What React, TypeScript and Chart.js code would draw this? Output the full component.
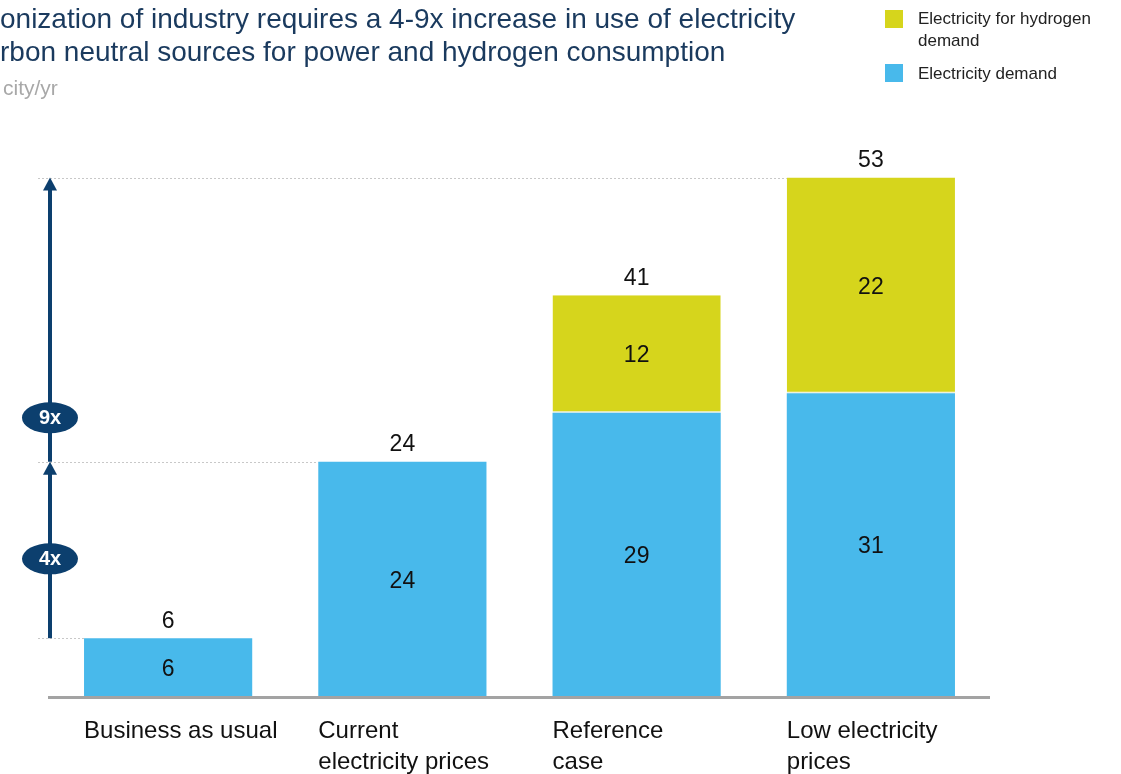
import React, { useEffect, useRef } from "react";
import { Chart, registerables } from "chart.js";

Chart.register(...registerables);

const categories: string[][] = [
  ["Business as usual"],
  ["Current", "electricity prices"],
  ["Reference", "case"],
  ["Low electricity", "prices"],
];
const electricityDemand = [6, 24, 29, 31];
const hydrogenDemand = [0, 0, 12, 22];
const totals = [6, 24, 41, 53];
const multipliers = ["4x", "9x"];
const titleLines = [
  "onization of industry requires a 4-9x increase in use of electricity",
  "rbon neutral sources for power and hydrogen consumption",
];
const subtitle = "city/yr";
const legendLabels = [["Electricity for hydrogen", "demand"], ["Electricity demand"]];

const BLUE = "#48b9eb";
const YELLOW = "#d6d51c";
const NAVY = "#0c3f6e";
const FONT = "'Liberation Sans', Arial, sans-serif";

const overlay = {
  id: "overlay",
  beforeDatasetsDraw(chart: any) {
    const ctx = chart.ctx;
    const y = chart.scales.y;
    const meta = chart.getDatasetMeta(0);
    ctx.save();
    ctx.strokeStyle = "#c8c8c8";
    ctx.lineWidth = 1;
    ctx.setLineDash([2, 2]);
    const idx = [0, 1, 3];
    idx.forEach((i) => {
      const bar = meta.data[i];
      const left = bar.x - bar.width / 2;
      const py = Math.round(y.getPixelForValue(totals[i])) + 0.5;
      ctx.beginPath();
      ctx.moveTo(38, py);
      ctx.lineTo(left, py);
      ctx.stroke();
    });
    ctx.restore();
  },
  afterDatasetsDraw(chart: any) {
    const ctx = chart.ctx;
    const y = chart.scales.y;
    const m0 = chart.getDatasetMeta(0);
    const m1 = chart.getDatasetMeta(1);
    ctx.save();

    // axis line
    ctx.fillStyle = "#a3a3a3";
    ctx.fillRect(48, y.getPixelForValue(0) - 1, 942, 3);

    // arrows
    const ax = 50;
    const y6 = y.getPixelForValue(totals[0]);
    const y24 = y.getPixelForValue(totals[1]);
    const y53 = y.getPixelForValue(totals[3]);
    ctx.strokeStyle = NAVY;
    ctx.fillStyle = NAVY;
    ctx.lineWidth = 4;
    const arrow = (from: number, to: number) => {
      ctx.beginPath();
      ctx.moveTo(ax, from);
      ctx.lineTo(ax, to + 10);
      ctx.stroke();
      ctx.beginPath();
      ctx.moveTo(ax, to);
      ctx.lineTo(ax - 7, to + 13);
      ctx.lineTo(ax + 7, to + 13);
      ctx.closePath();
      ctx.fill();
    };
    arrow(y6, y24);
    arrow(y24, y53);
    const ell = (cy: number, label: string) => {
      ctx.beginPath();
      ctx.ellipse(ax, cy, 28, 15.5, 0, 0, Math.PI * 2);
      ctx.fillStyle = NAVY;
      ctx.fill();
      ctx.fillStyle = "#ffffff";
      ctx.font = `bold 20px ${FONT}`;
      ctx.textAlign = "center";
      ctx.textBaseline = "middle";
      ctx.fillText(label, ax, cy + 1);
    };
    ell(y6 + (y24 - y6) * 0.45, multipliers[0]);
    ell(y24 + (y53 - y24) * 0.155, multipliers[1]);

    // value labels
    ctx.fillStyle = "#111111";
    ctx.font = `23px ${FONT}`;
    ctx.textAlign = "center";
    ctx.textBaseline = "middle";
    m0.data.forEach((bar: any, i: number) => {
      const v = electricityDemand[i];
      if (v > 0) ctx.fillText(String(v), bar.x, (bar.y + bar.base) / 2 + 2);
    });
    m1.data.forEach((bar: any, i: number) => {
      const v = hydrogenDemand[i];
      if (v > 0) ctx.fillText(String(v), bar.x, (bar.y + bar.base) / 2 + 2);
    });
    m0.data.forEach((bar: any, i: number) => {
      ctx.fillText(String(totals[i]), bar.x, y.getPixelForValue(totals[i]) - 17);
    });

    // category labels
    ctx.textAlign = "left";
    ctx.font = `24px ${FONT}`;
    m0.data.forEach((bar: any, i: number) => {
      const left = bar.x - bar.width / 2;
      categories[i].forEach((line, j) => {
        ctx.fillText(line, left, 731 + j * 31);
      });
    });

    // title
    ctx.fillStyle = "#1a3a5e";
    ctx.font = `28px ${FONT}`;
    ctx.textBaseline = "middle";
    ctx.fillText(titleLines[0], 0, 20);
    ctx.fillText(titleLines[1], 0, 53);
    ctx.fillStyle = "#a8a8a8";
    ctx.font = `21px ${FONT}`;
    ctx.fillText(subtitle, 3, 89);

    // legend
    ctx.font = `17px ${FONT}`;
    ctx.fillStyle = YELLOW;
    ctx.fillRect(885, 10, 18, 18);
    ctx.fillStyle = BLUE;
    ctx.fillRect(885, 64, 18, 18);
    ctx.fillStyle = "#222222";
    ctx.fillText(legendLabels[0][0], 918, 19);
    ctx.fillText(legendLabels[0][1], 918, 41);
    ctx.fillText(legendLabels[1][0], 918, 74);
    ctx.restore();
  },
};

export default function App() {
  const ref = useRef<HTMLCanvasElement | null>(null);
  useEffect(() => {
    if (!ref.current) return;
    const chart = new Chart(ref.current, {
      type: "bar",
      data: {
        labels: categories.map((c) => c.join(" ")),
        datasets: [
          {
            label: "Electricity demand",
            data: electricityDemand,
            backgroundColor: BLUE,
            categoryPercentage: 1,
            barPercentage: 0.718,
          },
          {
            label: "Electricity for hydrogen demand",
            data: hydrogenDemand,
            backgroundColor: YELLOW,
            borderColor: "#eef2dc",
            borderWidth: { bottom: 1.5, top: 0, left: 0, right: 0 } as any,
            borderSkipped: false,
            categoryPercentage: 1,
            barPercentage: 0.718,
          },
        ],
      },
      options: {
        responsive: false,
        animation: false,
        layout: { padding: { left: 51, right: 133, top: 158, bottom: 77 } },
        plugins: { legend: { display: false }, tooltip: { enabled: false } },
        scales: {
          x: { stacked: true, display: false },
          y: { stacked: true, display: false, min: 0, max: 55 },
        },
      },
      plugins: [overlay],
    });
    return () => chart.destroy();
  }, []);
  return (
    <div style={{ position: "absolute", left: 0, top: 0, width: 1121, height: 774, background: "#fff" }}>
      <canvas ref={ref} width={1121} height={774} style={{ display: "block" }} />
    </div>
  );
}
